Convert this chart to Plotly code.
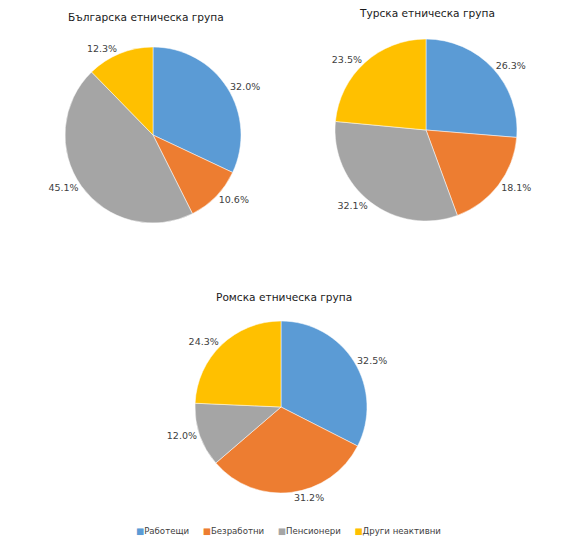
import plotly.graph_objects as go

categories = ["Работещи", "Безработни", "Пенсионери", "Други неактивни"]
titles = ["Българска етническа група", "Турска етническа група", "Ромска етническа група"]
bg_values = [32.0, 10.6, 45.1, 12.3]
tr_values = [26.3, 18.1, 32.1, 23.5]
rom_values = [32.5, 31.2, 12.0, 24.3]
colors = ["#5B9BD5", "#ED7D31", "#A5A5A5", "#FFC000"]

W, H = 565, 550

def px(x):
    return x / W

def py(y):
    return 1 - y / H

def dom(cx, cy, r):
    return dict(x=[px(cx - r), px(cx + r)], y=[py(cy + r), py(cy - r)])

fig = go.Figure()
specs = [(bg_values, dom(153, 135, 88)), (tr_values, dom(426, 130, 91)), (rom_values, dom(281, 407, 86))]
for vals, d in specs:
    fig.add_trace(go.Pie(
        labels=categories, values=vals, domain=d, sort=False, direction="clockwise",
        rotation=0, marker=dict(colors=colors, line=dict(color="white", width=0.5)),
        texttemplate="%{value:.1f}%", textposition="outside",
        textfont=dict(size=9.5, color="#404040", family="DejaVu Sans"),
        showlegend=False, hoverinfo="label+value",
    ))

title_pos = [(146, 17), (427, 13), (284, 297)]
for t, (x, y) in zip(titles, title_pos):
    fig.add_annotation(text=t, x=px(x), y=py(y), xref="paper", yref="paper",
                       xanchor="center", yanchor="middle", showarrow=False,
                       font=dict(size=10.6, color="#1a1a1a", family="DejaVu Sans"))

sep = "&nbsp;" * 5
legend_parts = [f"<span style='color:{c}'>■</span>{lab}" for c, lab in zip(colors, categories)]
fig.add_annotation(text=sep.join(legend_parts), x=px(288), y=py(531), xref="paper", yref="paper",
                   xanchor="center", yanchor="middle", showarrow=False,
                   font=dict(size=8.6, color="#404040", family="DejaVu Sans"))

fig.update_layout(
    width=W, height=H, margin=dict(l=0, r=0, t=0, b=0),
    paper_bgcolor="white", plot_bgcolor="white",
    font=dict(family="DejaVu Sans"), showlegend=False,
)
fig.write_html("out.html", config={"displayModeBar": False},
               post_script="document.body.style.margin='0px';")
